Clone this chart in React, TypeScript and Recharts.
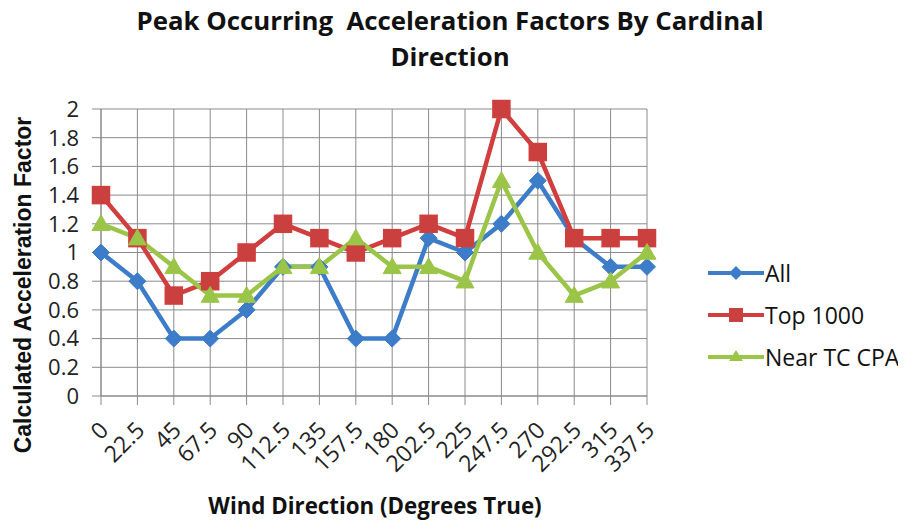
import React from 'react';
import { LineChart, Line, XAxis, YAxis, CartesianGrid } from 'recharts';

const categories = ['0', '22.5', '45', '67.5', '90', '112.5', '135', '157.5', '180', '202.5', '225', '247.5', '270', '292.5', '315', '337.5'];
const allValues = [1.0, 0.8, 0.4, 0.4, 0.6, 0.9, 0.9, 0.4, 0.4, 1.1, 1.0, 1.2, 1.5, 1.1, 0.9, 0.9];
const top1000Values = [1.4, 1.1, 0.7, 0.8, 1.0, 1.2, 1.1, 1.0, 1.1, 1.2, 1.1, 2.0, 1.7, 1.1, 1.1, 1.1];
const nearTcValues = [1.2, 1.1, 0.9, 0.7, 0.7, 0.9, 0.9, 1.1, 0.9, 0.9, 0.8, 1.5, 1.0, 0.7, 0.8, 1.0];
const yTicks = [0, 0.2, 0.4, 0.6, 0.8, 1, 1.2, 1.4, 1.6, 1.8, 2];
const seriesNames = ['All', 'Top 1000', 'Near TC CPA'];

const data = categories.map((c, i) => ({
  dir: c,
  all: allValues[i],
  top: top1000Values[i],
  near: nearTcValues[i],
}));

const BLUE = '#3D7CC9';
const RED = '#D03E3E';
const RED_FILL = '#C9403E';
const GREEN = '#9BC548';
const seriesColors = [BLUE, RED, GREEN];
const FONT = '"Open Sans", Lato, sans-serif';

const Diamond = (p: any) => {
  const { cx, cy, index } = p;
  if (cx == null || cy == null) return <g key={index} />;
  const r = 8.5;
  return <path key={index} d={`M${cx},${cy - r}L${cx + r},${cy}L${cx},${cy + r}L${cx - r},${cy}Z`} fill={BLUE} stroke={BLUE} strokeWidth={1} />;
};
const Square = (p: any) => {
  const { cx, cy, index } = p;
  if (cx == null || cy == null) return <g key={index} />;
  const r = 8.5;
  return <rect key={index} x={cx - r} y={cy - r} width={2 * r} height={2 * r} fill={RED_FILL} stroke={RED} strokeWidth={1.5} />;
};
const Triangle = (p: any) => {
  const { cx, cy, index } = p;
  if (cx == null || cy == null) return <g key={index} />;
  const r = 9;
  return <path key={index} d={`M${cx},${cy - r}L${cx + r},${cy + r * 0.75}L${cx - r},${cy + r * 0.75}Z`} fill={GREEN} stroke={GREEN} strokeWidth={1} />;
};

const XTick = (p: any) => {
  const { x, y, payload } = p;
  return (
    <g transform={`translate(${x + 3},${y + 19})`}>
      <text x={0} y={0} dy="0.35em" textAnchor="end" transform="rotate(-45)" fontSize={23} fontFamily={FONT} fill="#222">
        {payload.value}
      </text>
    </g>
  );
};

function LegendBox() {
  return (
    <div style={{ position: 'absolute', left: 700, top: 244, width: 198, whiteSpace: 'nowrap', fontFamily: FONT, fontSize: 23, color: '#111' }}>
      {seriesNames.map((name, i) => {
        const color = seriesColors[i];
        let marker: React.ReactNode = null;
        if (i === 0) marker = <path d="M28,1L35,8L28,15L21,8Z" fill={color} />;
        else if (i === 1) marker = <rect x={21} y={1} width={14} height={14} fill={RED_FILL} />;
        else marker = <path d="M28,1L35,12L21,12Z" fill={color} />;
        return (
          <div key={name} style={{ display: 'flex', alignItems: 'center', height: 42 }}>
            <svg width={56} height={16} style={{ marginRight: 1, flexShrink: 0 }}>
              <line x1={0} y1={8} x2={56} y2={8} stroke={color} strokeWidth={4} />
              {marker}
            </svg>
            <span>{name}</span>
          </div>
        );
      })}
    </div>
  );
}

export default function App() {
  return (
    <div style={{ position: 'relative', width: 898, height: 514, background: '#fff' }}>
      <LineChart width={890} height={506} data={data} margin={{ top: 101, right: 251, bottom: 58, left: 33 }} style={{ position: 'absolute', left: 0, top: 0 }}>
        <CartesianGrid stroke="#8a8a8a" strokeWidth={1} vertical={true} horizontal={true} />
        <XAxis dataKey="dir" height={60} interval={0} tick={<XTick />} tickSize={9} axisLine={{ stroke: '#8a8a8a' }} tickLine={{ stroke: '#8a8a8a' }} />
        <YAxis width={60} domain={[0, 2]} ticks={yTicks} interval={0} tickSize={9} tickMargin={13} axisLine={{ stroke: '#8a8a8a' }} tickLine={{ stroke: '#8a8a8a' }} tick={{ fontSize: 22, fontFamily: FONT, fill: '#222' }} />
        <Line name={seriesNames[0]} dataKey="all" stroke={BLUE} strokeWidth={4.5} dot={Diamond} activeDot={false} isAnimationActive={false} />
        <Line name={seriesNames[1]} dataKey="top" stroke={RED} strokeWidth={4.5} dot={Square} activeDot={false} isAnimationActive={false} />
        <Line name={seriesNames[2]} dataKey="near" stroke={GREEN} strokeWidth={4.5} dot={Triangle} activeDot={false} isAnimationActive={false} />
      </LineChart>
      <LegendBox />
      <div style={{ position: 'absolute', left: 0, top: 0, width: 884, textAlign: 'center', fontFamily: FONT, fontWeight: 700, fontSize: 25.8, lineHeight: '36px', color: '#111' }}>
        <div style={{ position: 'absolute', left: 0, width: 884, top: 12, transform: 'translateY(-50%)' }}>Peak Occurring&nbsp; Acceleration Factors By Cardinal</div>
        <div style={{ position: 'absolute', left: 0, width: 884, top: 48, transform: 'translateY(-50%)' }}>Direction</div>
      </div>
      <div style={{ position: 'absolute', left: 15, top: 277, transform: 'translate(-50%,-50%) rotate(-90deg)', whiteSpace: 'nowrap', fontFamily: '"Liberation Sans", Arial, sans-serif', fontWeight: 700, fontSize: 23, color: '#111' }}>
        Calculated Acceleration Factor
      </div>
      <div style={{ position: 'absolute', left: 367, top: 498, transform: 'translate(-50%,-50%)', whiteSpace: 'nowrap', fontFamily: FONT, fontWeight: 700, fontSize: 22.3, lineHeight: '26px', color: '#111' }}>
        Wind Direction (Degrees True)
      </div>
    </div>
  );
}
